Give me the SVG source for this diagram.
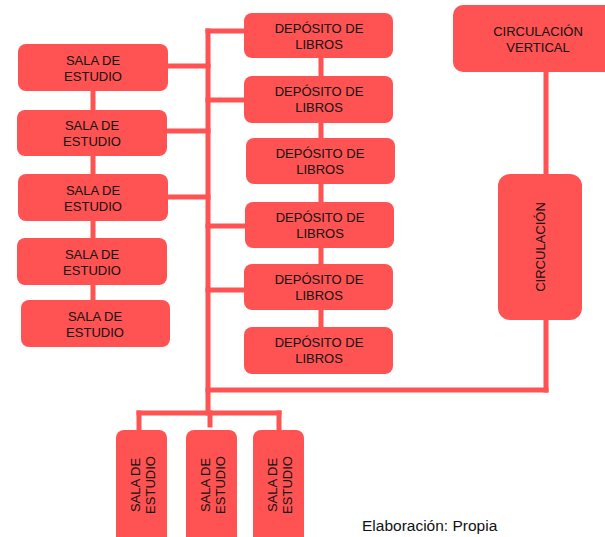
<svg xmlns="http://www.w3.org/2000/svg" width="605" height="537" viewBox="0 0 605 537">
<style>
.n{fill:#FF5252;}
.t{font-family:"Liberation Sans",Arial,sans-serif;font-size:13px;fill:#111;text-anchor:middle;}
.c{stroke:#FF5252;stroke-width:5;fill:none;stroke-linecap:square;}
</style>
<rect width="605" height="537" fill="#fff"/>
<g id="connectors">
<line class="c" x1="93" y1="91" x2="93" y2="300"/>
<line class="c" x1="321" y1="58" x2="321" y2="327"/>
<line class="c" x1="208" y1="31" x2="208" y2="413"/>
<line class="c" x1="208" y1="31" x2="244" y2="31"/>
<line class="c" x1="208" y1="100" x2="244" y2="100"/>
<line class="c" x1="208" y1="226" x2="244" y2="226"/>
<line class="c" x1="208" y1="290" x2="244" y2="290"/>
<line class="c" x1="168" y1="66" x2="208" y2="66"/>
<line class="c" x1="168" y1="131" x2="208" y2="131"/>
<line class="c" x1="168" y1="197" x2="208" y2="197"/>
<line class="c" x1="208" y1="390" x2="546" y2="390"/>
<line class="c" x1="546" y1="72" x2="546" y2="390"/>
<line class="c" x1="139" y1="413" x2="279" y2="413"/>
<line class="c" x1="139" y1="413" x2="139" y2="430"/>
<line class="c" x1="279" y1="413" x2="279" y2="430"/>
<line class="c" x1="210" y1="413" x2="210" y2="425"/>
</g>
<g id="sala1"><rect class="n" x="18" y="44" width="150" height="47" rx="8"/><text class="t" x="93" y="65">SALA DE</text><text class="t" x="93" y="81">ESTUDIO</text></g>
<g id="sala2"><rect class="n" x="17" y="110" width="150" height="46" rx="8"/><text class="t" x="92" y="130">SALA DE</text><text class="t" x="92" y="146">ESTUDIO</text></g>
<g id="sala3"><rect class="n" x="18" y="174" width="150" height="47" rx="8"/><text class="t" x="93" y="195">SALA DE</text><text class="t" x="93" y="211">ESTUDIO</text></g>
<g id="sala4"><rect class="n" x="17" y="238" width="150" height="47" rx="8"/><text class="t" x="92" y="259">SALA DE</text><text class="t" x="92" y="275">ESTUDIO</text></g>
<g id="sala5"><rect class="n" x="21" y="300" width="149" height="47" rx="8"/><text class="t" x="95" y="321">SALA DE</text><text class="t" x="95" y="337">ESTUDIO</text></g>
<g id="dep1"><rect class="n" x="244" y="13" width="149" height="45" rx="8"/><text class="t" x="319" y="33">DEPÓSITO DE</text><text class="t" x="319" y="49">LIBROS</text></g>
<g id="dep2"><rect class="n" x="244" y="76" width="149" height="47" rx="8"/><text class="t" x="319" y="96">DEPÓSITO DE</text><text class="t" x="319" y="112">LIBROS</text></g>
<g id="dep3"><rect class="n" x="246" y="138" width="149" height="46" rx="8"/><text class="t" x="320" y="158">DEPÓSITO DE</text><text class="t" x="320" y="174">LIBROS</text></g>
<g id="dep4"><rect class="n" x="245" y="202" width="149" height="46" rx="8"/><text class="t" x="320" y="222">DEPÓSITO DE</text><text class="t" x="320" y="238">LIBROS</text></g>
<g id="dep5"><rect class="n" x="244" y="264" width="149" height="46" rx="8"/><text class="t" x="319" y="284">DEPÓSITO DE</text><text class="t" x="319" y="300">LIBROS</text></g>
<g id="dep6"><rect class="n" x="244" y="327" width="149" height="47" rx="8"/><text class="t" x="319" y="347">DEPÓSITO DE</text><text class="t" x="319" y="363">LIBROS</text></g>
<g id="circvert"><rect class="n" x="453" y="5" width="170" height="67" rx="10"/><text class="t" x="538" y="36">CIRCULACIÓN</text><text class="t" x="538" y="52">VERTICAL</text></g>
<g id="circ"><rect class="n" x="498" y="174" width="84" height="146" rx="12"/><text class="t" transform="translate(545,247) rotate(-90)">CIRCULACIÓN</text></g>
<g id="salab1"><rect class="n" x="116" y="430" width="51" height="120" rx="8"/><text class="t" transform="translate(140,485) rotate(-90)">SALA DE</text><text class="t" transform="translate(155,485) rotate(-90)">ESTUDIO</text></g>
<g id="salab2"><rect class="n" x="186" y="430" width="51" height="120" rx="8"/><text class="t" transform="translate(210,485) rotate(-90)">SALA DE</text><text class="t" transform="translate(225,485) rotate(-90)">ESTUDIO</text></g>
<g id="salab3"><rect class="n" x="253" y="430" width="51" height="120" rx="8"/><text class="t" transform="translate(277,485) rotate(-90)">SALA DE</text><text class="t" transform="translate(292,485) rotate(-90)">ESTUDIO</text></g>
<text x="362" y="531" style="font-family:'Liberation Sans',Arial,sans-serif;font-size:15.5px;fill:#111;">Elaboración: Propia</text>
</svg>
